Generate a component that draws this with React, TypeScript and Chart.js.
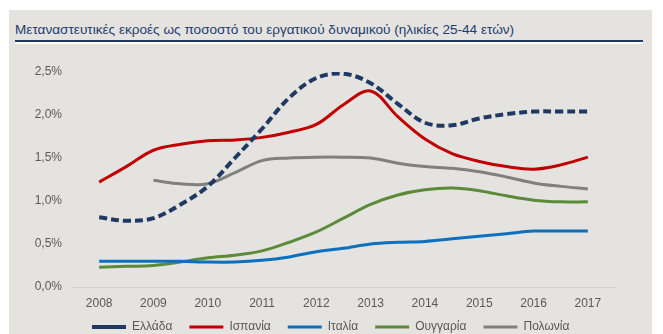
import React, { useEffect, useRef } from "react";
import { Chart, registerables } from "chart.js";

Chart.register(...registerables);

const title = "Μεταναστευτικές εκροές ως ποσοστό του εργατικού δυναμικού (ηλικίες 25-44 ετών)";

const periods = [2008, 2008.5, 2009, 2009.5, 2010, 2010.5, 2011, 2011.5, 2012, 2012.5, 2013, 2013.5, 2014, 2014.5, 2015, 2015.5, 2016, 2016.5, 2017];
const yearTicks = [2008, 2009, 2010, 2011, 2012, 2013, 2014, 2015, 2016, 2017];
const yTicks = [0, 0.5, 1, 1.5, 2, 2.5];

const greece = [0.81, 0.77, 0.8, 0.96, 1.17, 1.5, 1.84, 2.2, 2.43, 2.48, 2.37, 2.13, 1.91, 1.88, 1.96, 2.01, 2.04, 2.04, 2.04];
const spain = [1.22, 1.4, 1.59, 1.66, 1.7, 1.71, 1.74, 1.8, 1.89, 2.12, 2.28, 1.98, 1.72, 1.55, 1.46, 1.4, 1.37, 1.42, 1.51];
const italy = [0.3, 0.3, 0.3, 0.3, 0.29, 0.29, 0.31, 0.35, 0.41, 0.45, 0.5, 0.52, 0.53, 0.56, 0.59, 0.62, 0.65, 0.65, 0.65];
const hungary = [0.23, 0.24, 0.25, 0.29, 0.34, 0.37, 0.42, 0.52, 0.64, 0.8, 0.96, 1.07, 1.13, 1.15, 1.12, 1.06, 1.01, 0.99, 0.99];
const poland = [null, null, 1.24, 1.2, 1.2, 1.33, 1.47, 1.5, 1.51, 1.51, 1.5, 1.44, 1.4, 1.38, 1.34, 1.28, 1.21, 1.17, 1.14];

const seriesNames = ["Ελλάδα", "Ισπανία", "Ιταλία", "Ουγγαρία", "Πολωνία"];
const seriesColors = ["#1f3864", "#c00000", "#0a70bf", "#5b8b38", "#808080"];

const FONT = "'Liberation Sans', Arial, sans-serif";
const TEXT = "#595959";

const toPoints = (vals: (number | null)[]) => periods.map((x, i) => ({ x, y: vals[i] }));

const legendShift = {
  id: "legendShift",
  beforeDraw(chart: any) {
    const lg = chart.legend;
    if (lg) {
      const w = lg.right - lg.left;
      const h = lg.bottom - lg.top;
      lg.left = 75;
      lg.right = 75 + w;
      lg.top = 304;
      lg.bottom = 304 + h;
    }
  },
};

export default function App() {
  const ref = useRef<HTMLCanvasElement | null>(null);
  useEffect(() => {
    if (!ref.current) return;
    const all = [greece, spain, italy, hungary, poland];
    const chart = new Chart(ref.current, {
      type: "line",
      data: {
        datasets: all.map((vals, i) => ({
          label: seriesNames[i],
          data: toPoints(vals),
          borderColor: seriesColors[i],
          backgroundColor: seriesColors[i],
          borderWidth: i === 0 ? 4 : 3,
          borderDash: i === 0 ? [8, 4] : [],
          pointRadius: 0,
          tension: 0.35,
          fill: false,
        })),
      },
      options: {
        animation: false,
        responsive: false,
        devicePixelRatio: 1,
        layout: { padding: { left: 0, right: 48, top: 72, bottom: 0 } },
        plugins: {
          tooltip: { enabled: false },
          legend: {
            position: "bottom",
            align: "start",
            labels: {
              usePointStyle: true,
              pointStyle: "line",
              pointStyleWidth: 34,
              padding: 17,
              color: TEXT,
              font: { family: FONT, size: 12 },
            },
          },
        },
        scales: {
          x: {
            type: "linear",
            min: 2007.5,
            max: 2017.5,
            afterBuildTicks: (s: any) => {
              s.ticks = yearTicks.map((v) => ({ value: v }));
            },
            afterFit: (s: any) => {
              s.height = 24;
            },
            grid: { display: false, drawTicks: false },
            border: { display: true, color: "#d2d0cc", width: 1 },
            ticks: {
              autoSkip: false,
              maxRotation: 0,
              padding: 9,
              color: TEXT,
              font: { family: FONT, size: 12 },
              callback: (v: any) => String(v),
            },
          },
          y: {
            min: 0,
            max: 2.5,
            afterBuildTicks: (s: any) => {
              s.ticks = yTicks.map((v) => ({ value: v }));
            },
            afterFit: (s: any) => {
              s.width = 72;
            },
            grid: { display: false, drawTicks: false },
            border: { display: false },
            ticks: {
              padding: 10,
              color: TEXT,
              font: { family: FONT, size: 12 },
              callback: (v: any) => Number(v).toFixed(1).replace(".", ",") + "%",
            },
          },
        },
      },
      plugins: [legendShift],
    } as any);
    return () => chart.destroy();
  }, []);

  return (
    <div style={{ position: "fixed", left: 0, top: 0, width: 663, height: 334, overflow: "hidden", background: "#ffffff" }}>
      <div style={{ position: "absolute", left: 9, top: 10, width: 643, height: 324, background: "#e5e3df" }} />
      <div
        style={{
          position: "absolute",
          left: 15,
          top: 22,
          fontFamily: FONT,
          fontSize: 13.6,
          color: "#1f3b6e",
          whiteSpace: "nowrap",
          lineHeight: "16px",
        }}
      >
        {title}
      </div>
      <div style={{ position: "absolute", left: 15, top: 40, width: 628, height: 2, background: "#1f3864" }} />
      <div style={{ position: "absolute", left: 15, top: 42, width: 628, height: 2, background: "#ffffff" }} />
      <canvas ref={ref} width={663} height={350} style={{ position: "absolute", left: 0, top: 0, width: 663, height: 350 }} />
    </div>
  );
}
